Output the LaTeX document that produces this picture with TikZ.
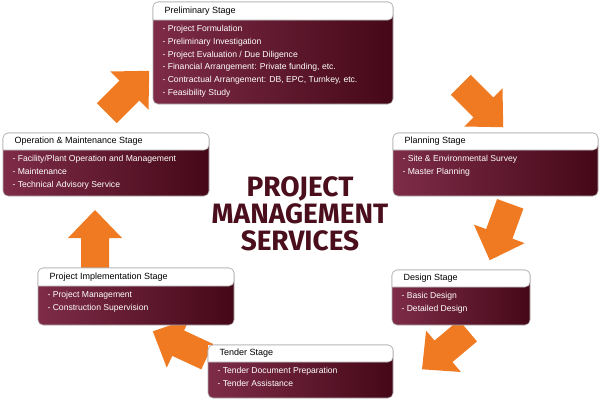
\documentclass[tikz,border=0pt]{standalone}
\usepackage{fontspec}
\setmainfont{Liberation Sans}
\newfontfamily\titlefont{Fira Sans}
\definecolor{maroonL}{HTML}{7E2C48}
\definecolor{maroonR}{HTML}{450818}
\definecolor{titlec}{HTML}{4A0E1C}
\definecolor{orng}{HTML}{F07A22}
\tikzset{
  body/.style={draw=gray!60, line width=0.6pt, rounded corners=5pt, left color=maroonL, right color=maroonR},
  head/.style={draw=gray!60, line width=0.6pt, fill=white},
  htxt/.style={anchor=west, font=\fontsize{9}{10}\selectfont, text=black},
  btxt/.style={anchor=north west, align=left, font=\fontsize{8.6}{12.7}\selectfont, text=white},
  bigarrow/.style={fill=orng, draw=none}
}
\newcommand{\fatarrow}[4]{% name, x, y, angle
  \coordinate (#1) at (#2,#3);
  \begin{scope}[shift={(#1)}, rotate=#4]
    \path[bigarrow] (-30,-14) -- (2,-14) -- (2,-27) -- (30,0) -- (2,27) -- (2,14) -- (-30,14) -- cycle;
  \end{scope}
}
\newcommand{\stagebox}[6]{% name, x1,y1,x2,y2, headerbottom
  \fill[white] (#2,#3) rectangle (#4,#5);
  \path[body] (#2,#3) rectangle (#4,#5);
  \path[head, rounded corners=5pt] (#2,#6) -- (#2,#3) -- (#4,#3) -- (#4,#6) [sharp corners]-- cycle;
  \coordinate (#1h) at (#2+8,{(#3+#6)/2});
  \coordinate (#1b) at (#2+6,#6+2);
}
\begin{document}
\begin{tikzpicture}[x=1pt,y=-1pt]
\useasboundingbox (0,0) rectangle (600,400);
\fill[white] (0,0) rectangle (600,400);
% arrows
\fatarrow{a1}{482}{106}{-45}
\fatarrow{a2}{500}{232}{-110}
\fatarrow{a3}{445}{350}{-140}
\fatarrow{a4}{180}{344}{155}
\fatarrow{a5}{95}{240}{90}
\fatarrow{a6}{128}{92}{45}
% boxes
\stagebox{pre}{153}{2}{393}{104}{20}
\node[htxt] (preH) at (preh) {Preliminary Stage};
\node[btxt] (preB) at (preb) {- Project Formulation\\- Preliminary Investigation\\- Project Evaluation / Due Diligence\\- Financial Arrangement: Private funding, etc.\\- Contractual Arrangement: DB, EPC, Turnkey, etc.\\- Feasibility Study};
\stagebox{pla}{393}{133}{598}{196}{150}
\node[htxt] (plaH) at (plah) {Planning Stage};
\node[btxt] (plaB) at (plab) {- Site \& Environmental Survey\\- Master Planning};
\stagebox{des}{392}{270}{530}{325}{287}
\node[htxt] (desH) at (desh) {Design Stage};
\node[btxt] (desB) at (desb) {- Basic Design\\- Detailed Design};
\stagebox{ten}{208}{345}{393}{398}{362}
\node[htxt] (tenH) at (tenh) {Tender Stage};
\node[btxt] (tenB) at (tenb) {- Tender Document Preparation\\- Tender Assistance};
\stagebox{imp}{38}{268}{234}{325}{286}
\node[htxt] (impH) at (imph) {Project Implementation Stage};
\node[btxt] (impB) at (impb) {- Project Management\\- Construction Supervision};
\stagebox{om}{3}{133}{209}{196}{150}
\node[htxt] (omH) at (omh) {Operation \& Maintenance Stage};
\node[btxt] (omB) at (omb) {- Facility/Plant Operation and Management\\- Maintenance\\- Technical Advisory Service};
% title
\node[align=center, text=titlec, font=\titlefont\bfseries\fontsize{28}{27}\selectfont] (title) at (300,214) {PROJECT\\MANAGEMENT\\SERVICES};
\end{tikzpicture}
\end{document}
